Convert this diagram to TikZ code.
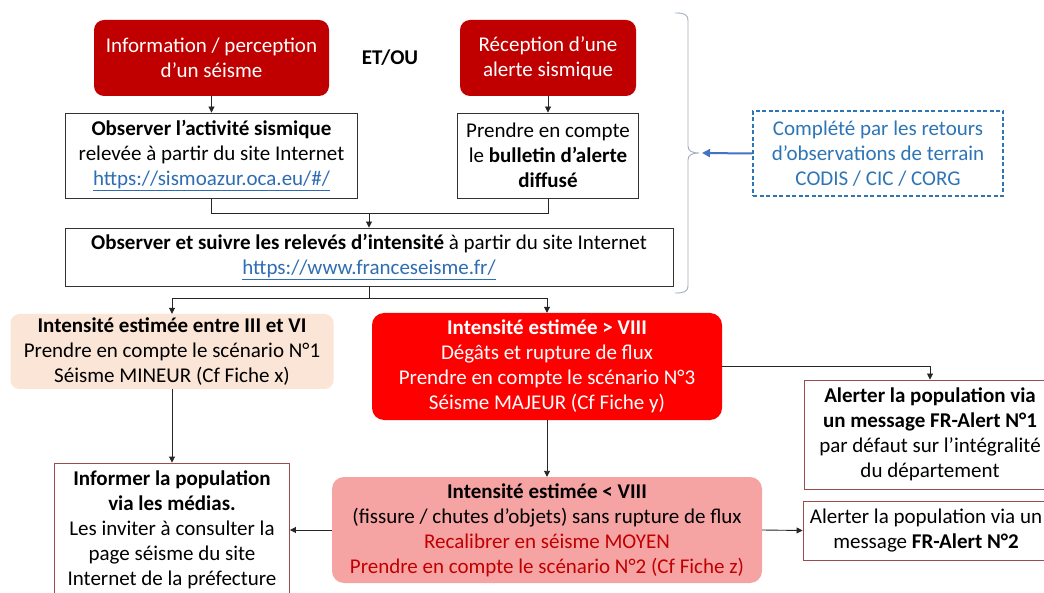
\documentclass[tikz,border=0pt]{standalone}
\usepackage{fontspec}
\setmainfont{Carlito}
\usetikzlibrary{arrows.meta}
\definecolor{cDark}{HTML}{C00000}
\definecolor{cBright}{HTML}{FF0000}
\definecolor{cPeach}{HTML}{FBE5D6}
\definecolor{cPink}{HTML}{F6A3A3}
\definecolor{cLink}{HTML}{2E6DB4}
\definecolor{cBlue}{HTML}{2E75B6}
\definecolor{cArrowBlue}{HTML}{4472C4}
\definecolor{cBorder}{HTML}{9E4B4B}
\definecolor{cBrace}{HTML}{A3AFBF}
\definecolor{cRedText}{HTML}{C00000}
\newcommand{\lnk}[1]{\textcolor{cLink}{\underline{#1}}}
\tikzset{
  every node/.style={font=\fontsize{21}{25}\selectfont, align=center, inner sep=0pt},
  redbox/.style={fill=cDark, text=white, rounded corners=10pt},
  brightbox/.style={fill=cBright, text=white, rounded corners=12pt},
  peachbox/.style={fill=cPeach, rounded corners=9pt},
  pinkbox/.style={fill=cPink, rounded corners=12pt},
  plainbox/.style={draw=black!80, line width=0.9pt, fill=white},
  alertbox/.style={draw=cBorder, line width=0.9pt, fill=white},
  dashbox/.style={draw=cBlue, dash pattern=on 4pt off 2.5pt, line width=1.2pt, text=cBlue},
  conn/.style={draw=black!85, line width=0.9pt},
  arr/.style={conn, -{Triangle[length=6pt,width=6pt]}},
  bluearr/.style={draw=cArrowBlue, line width=2pt, -{Triangle[length=8pt,width=8pt]}},
  bracestyle/.style={draw=cBrace, line width=0.9pt},
}
\begin{document}
\begin{tikzpicture}[x=1pt,y=-1pt]
\useasboundingbox (0,0) rectangle (1044,593);
\fill[white] (0,0) rectangle (1044,593);
\clip (0,0) rectangle (1044,593);

% top row
\node[redbox, minimum width=235pt, minimum height=76pt] (info) at (211.5,58)
  {Information / perception\\d’un séisme};
\node (etou) at (390,58) {\textbf{ET/OU}};
\node[redbox, minimum width=176pt, minimum height=76pt] (recep) at (548,58)
  {Réception d’une\\alerte sismique};

% second row
\node[plainbox, minimum width=292pt, minimum height=85pt] (obs) at (211.5,155.5)
  {\textbf{Observer l’activité sismique}\\relevée à partir du site Internet\\\lnk{https://sismoazur.oca.eu/\#/}};
\node[plainbox, minimum width=181pt, minimum height=85pt] (prend) at (548,155.5)
  {Prendre en compte\\le \textbf{bulletin d’alerte}\\\textbf{diffusé}};

\node[plainbox, minimum width=608pt, minimum height=58pt] (suivre) at (369,257)
  {\textbf{Observer et suivre les relevés d’intensité} à partir du site Internet\\\lnk{https://www.franceseisme.fr/}};

% dashed complement box
\node[dashbox, minimum width=250pt, minimum height=85pt] (compl) at (878,153.5)
  {Complété par les retours\\d’observations de terrain\\CODIS / CIC / CORG};

% brace
\draw[bracestyle] (675,13) .. controls (684,13) and (688,14) .. (688,21)
  -- (688,146) .. controls (688,151) and (692,153) .. (699,153)
  .. controls (692,153) and (688,155) .. (688,160)
  -- (688,285) .. controls (688,292) and (684,293) .. (675,293);
\coordinate (brtip) at (702,153);

% intensity row
\node[peachbox, minimum width=323pt, minimum height=75pt] (i36) at (172,351.5)
  {\textbf{Intensité estimée entre III et VI}\\Prendre en compte le scénario N°1\\Séisme MINEUR (Cf Fiche x)};
\node[brightbox, minimum width=350pt, minimum height=107pt] (i8p) at (547,366.5)
  {\textbf{Intensité estimée > VIII}\\Dégâts et rupture de flux\\Prendre en compte le scénario N°3\\Séisme MAJEUR (Cf Fiche y)};
\node[alertbox, minimum width=252pt, minimum height=109pt] (alert1) at (930,434.5)
  {\textbf{Alerter la population via}\\\textbf{un message FR-Alert N°1}\\par défaut sur l’intégralité\\du département};

\node[pinkbox, minimum width=430pt, minimum height=106pt] (i8m) at (547,530)
  {\textbf{Intensité estimée < VIII}\\(fissure / chutes d’objets) sans rupture de flux\\\textcolor{cRedText}{Recalibrer en séisme MOYEN}\\\textcolor{cRedText}{Prendre en compte le scénario N°2 (Cf Fiche z)}};
\node[alertbox, minimum width=246pt, minimum height=59pt] (alert2) at (926,530.5)
  {Alerter la population via un\\message \textbf{FR-Alert N°2}};
\node[alertbox, minimum width=235pt, minimum height=134pt] (inform) at (172,530)
  {\textbf{Informer la population}\\\textbf{via les médias.}\\Les inviter à consulter la\\page séisme du site\\Internet de la préfecture};

% junctions
\coordinate (j1) at (369,213);
\coordinate (j2) at (369,298);

% connectors
\draw[arr] (info.south) -- (obs.north);
\draw[arr] (recep.south) -- (prend.north);
\draw[conn] (obs.south) |- (j1);
\draw[conn] (prend.south) |- (j1);
\draw[arr] (j1) -- (suivre.north);
\draw[conn] (suivre.south) -- (j2);
\draw[arr] (j2) -| (i36.north);
\draw[arr] (j2) -| (i8p.north);
\draw[arr] (i8p.east) -| (alert1.north);
\draw[arr] (i8p.south) -- (i8m.north);
\draw[arr] (i36.south) -- (inform.north);
\draw[arr] (i8m.west) -- (inform.east);
\draw[arr] (i8m.east) -- (alert2.west);
\draw[bluearr] (compl.west) -- (brtip);
\end{tikzpicture}
\end{document}
